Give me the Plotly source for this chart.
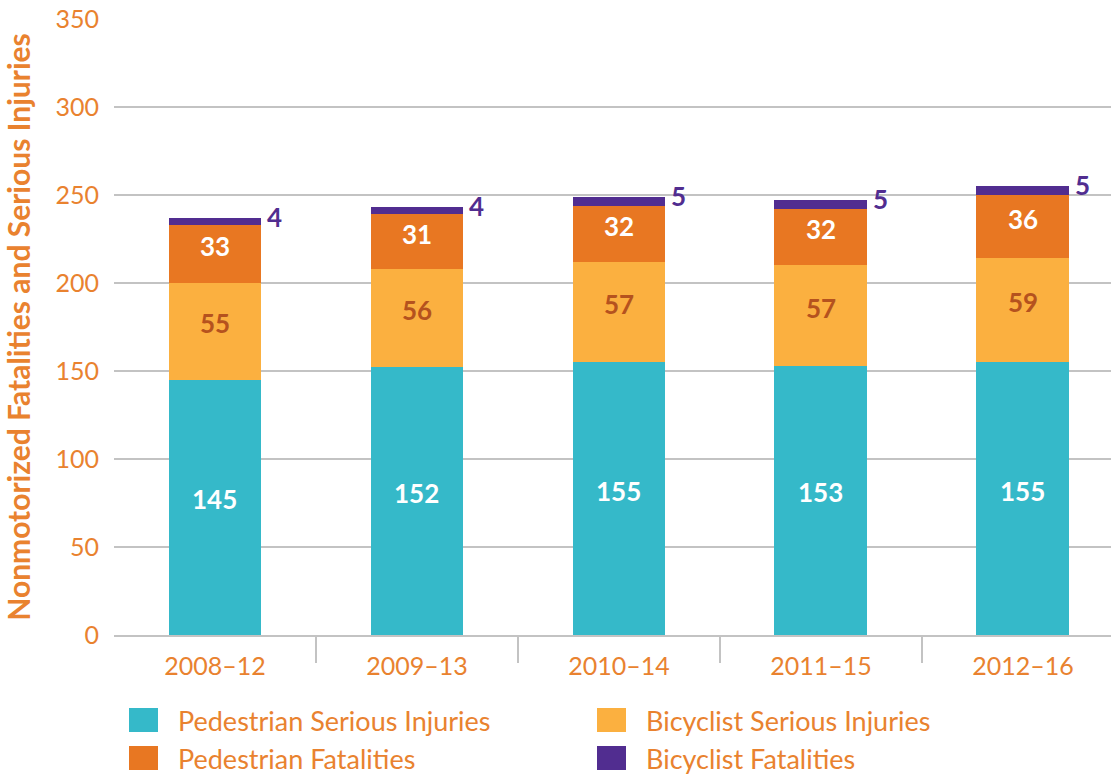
import plotly.graph_objects as go

# Five-year rolling periods and counts per series
periods = ["2008–12", "2009–13", "2010–14", "2011–15", "2012–16"]
ped_serious = [145, 152, 155, 153, 155]
bike_serious = [55, 56, 57, 57, 59]
ped_fatal = [33, 31, 32, 32, 36]
bike_fatal = [4, 4, 5, 5, 5]

series = [
    ("Pedestrian Serious Injuries", ped_serious, "#35B9C9", "#FFFFFF"),
    ("Bicyclist Serious Injuries", bike_serious, "#FBB040", "#B5521E"),
    ("Pedestrian Fatalities", ped_fatal, "#E87722", "#FFFFFF"),
    ("Bicyclist Fatalities", bike_fatal, "#512D90", None),
]

ORANGE = "#E9822F"
PURPLE = "#512D90"
GRID = "#C3C3C3"
FONT = "Lato"

W, H = 1111, 778
L, R, T, B = 114, 0, 19, 143
PW, PH = W - L - R, H - T - B

xs = list(range(len(periods)))
bar_w = 0.46

fig = go.Figure()
base = [0] * len(xs)
for name, vals, color, tcolor in series:
    fig.add_trace(go.Bar(
        x=xs, y=vals, name=name, width=bar_w,
        marker=dict(color=color, line=dict(width=0)),
        showlegend=False, hoverinfo="skip",
    ))
    # Segment value labels, centred in each segment and nudged slightly upward
    if tcolor:
        for x, b0, v in zip(xs, base, vals):
            fig.add_annotation(
                x=x, y=b0 + v / 2, text=str(v), showarrow=False,
                xanchor="center", yanchor="middle", yshift=8,
                font=dict(family=FONT, size=26, color=tcolor, weight="bold"),
            )
    base = [b0 + v for b0, v in zip(base, vals)]

# Bicyclist fatality counts sit just right of each bar top
for x, tot, v in zip(xs, base, bike_fatal):
    fig.add_annotation(
        x=x, y=tot, text=str(v), showarrow=False,
        xanchor="left", yanchor="middle", xshift=bar_w / 2 * 202 + 4, yshift=1,
        font=dict(family=FONT, size=26, color=PURPLE, weight="bold"),
    )


def px_x(p):
    return (p - L) / PW


def px_y(p):
    return (H - B - p) / PH


# Two-column legend with large swatches
legend_cells = [(129, 720), (597, 720), (129, 758), (597, 758)]
for (name, _, color, _), (lx, ly) in zip(series, legend_cells):
    fig.add_shape(
        type="rect", xref="paper", yref="paper",
        x0=px_x(lx), x1=px_x(lx + 29), y0=px_y(ly - 12), y1=px_y(ly + 12),
        fillcolor=color, line=dict(width=0),
    )
    fig.add_annotation(
        xref="paper", yref="paper", x=px_x(lx + 47), y=px_y(ly),
        text=name, showarrow=False, xanchor="left", yanchor="middle",
        font=dict(family=FONT, size=27, color=ORANGE),
    )

fig.update_layout(
    width=W, height=H,
    margin=dict(l=L, r=R, t=T, b=B, pad=0),
    barmode="stack",
    plot_bgcolor="white", paper_bgcolor="white",
    font=dict(family=FONT, color=ORANGE),
    showlegend=False,
    xaxis=dict(
        range=[-0.5, 4.436],
        tickvals=xs, ticktext=periods,
        ticks="", ticklabelstandoff=8,
        tickfont=dict(family=FONT, size=25, color=ORANGE),
        showgrid=False, zeroline=False,
        showline=True, linecolor=GRID, linewidth=2,
        minor=dict(tickvals=[0.5, 1.5, 2.5, 3.5], ticks="outside", ticklen=26,
                   tickcolor=GRID, tickwidth=2, showgrid=False),
        fixedrange=True,
    ),
    yaxis=dict(
        range=[0, 350], dtick=50,
        showgrid=True, gridcolor=GRID, gridwidth=2,
        zeroline=False, showline=False, ticks="",
        ticklabelstandoff=14,
        tickfont=dict(family=FONT, size=25, color=ORANGE),
        title=dict(text="Nonmotorized Fatalities and Serious Injuries",
                   font=dict(family=FONT, size=30, color=ORANGE, weight="bold"),
                   standoff=16),
        fixedrange=True,
    ),
)

fig.write_html("out.html")
